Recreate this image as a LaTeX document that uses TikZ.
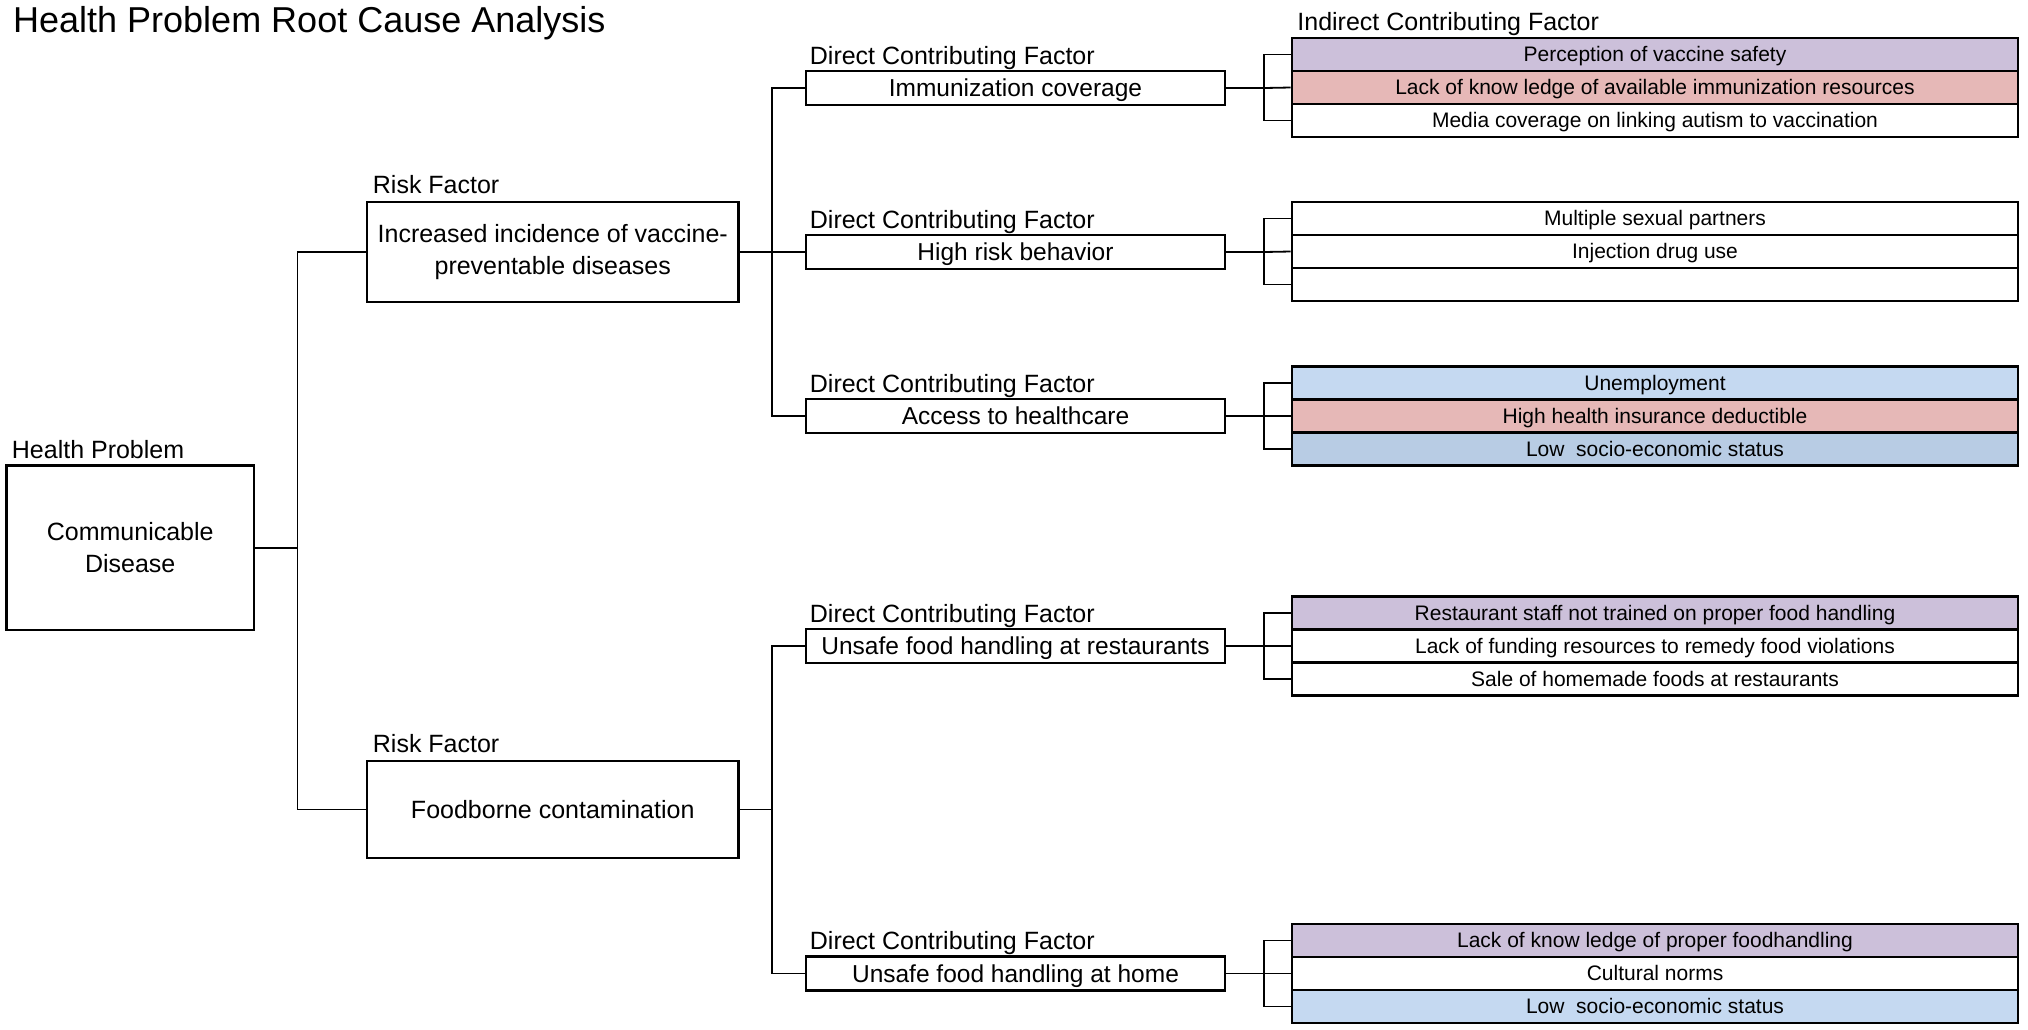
\documentclass[tikz,border=0pt]{standalone}
\usepackage{fontspec}
\setmainfont{Liberation Sans}
\usetikzlibrary{calc}
\definecolor{lav}{HTML}{CCC0DA}
\definecolor{pnk}{HTML}{E6B8B7}
\definecolor{lblue}{HTML}{C5D9F1}
\definecolor{dblue}{HTML}{B8CCE4}
\tikzset{
  box/.style={draw, line width=2.6pt, inner sep=0pt, align=center, fill=white},
  bigbox/.style={box, font=\fontsize{25}{32.4}\selectfont},
  dcfbox/.style={box, minimum width=419pt, minimum height=34pt, text height=18.4pt, text depth=1.2pt, font=\fontsize{24.5}{28}\selectfont},
  icfbox/.style={box, minimum width=726pt, minimum height=33pt, text height=15.8pt, text depth=1pt, font=\fontsize{21}{25}\selectfont},
  lbl/.style={anchor=base west, inner sep=0pt, font=\fontsize{25}{30}\selectfont},
  conn/.style={draw, line width=1.8pt}
}
\begin{document}
\begin{tikzpicture}[x=1pt,y=-1pt]
\fill[white] (0,0) rectangle (2028,1029);
\useasboundingbox (0,0) rectangle (2028,1029);

\node[anchor=base west, inner sep=0pt, font=\fontsize{36}{40}\selectfont] (title) at (13,32) {Health Problem Root Cause Analysis};

% Health problem
\node[bigbox, minimum width=247.5pt, minimum height=164.5pt] (cd) at (130.25,547.75) {Communicable\\Disease};
\node[lbl] (cdl) at ($(cd.north west)+(6.5,-6)$) {Health Problem};

% Risk factors
\node[bigbox, minimum width=371.5pt, minimum height=100pt] (rf1) at (552.75,252) {Increased incidence of vaccine-\\preventable diseases};
\node[lbl] (rf1l) at ($(rf1.north west)+(7,-7)$) {Risk Factor};
\node[bigbox, minimum width=371.5pt, minimum height=97pt] (rf2) at (552.75,809.5) {Foodborne contamination};
\node[lbl] (rf2l) at ($(rf2.north west)+(7,-7)$) {Risk Factor};

% Direct contributing factors
\node[dcfbox] (d1) at (1015.5,88) {Immunization coverage};
\node[dcfbox] (d2) at (1015.5,252) {High risk behavior};
\node[dcfbox] (d3) at (1015.5,416) {Access to healthcare};
\node[dcfbox] (d4) at (1015.5,646) {Unsafe food handling at restaurants};
\node[dcfbox] (d5) at (1015.5,973.5) {Unsafe food handling at home};
\foreach \d in {d1,d2,d3,d4,d5}{
  \node[lbl] (\d l) at ($(\d.north west)+(5,-5.5)$) {Direct Contributing Factor};
}

% Indirect contributing factors
\node[icfbox, fill=lav] (i11) at (1655,54.5) {Perception of vaccine safety};
\node[icfbox, fill=pnk] (i12) at (1655,87.5) {Lack of know ledge of available immunization resources};
\node[icfbox] (i13) at (1655,120.5) {Media coverage on linking autism to vaccination};
\node[lbl] (icfl) at ($(i11.north west)+(6.5,-6.5)$) {Indirect Contributing Factor};

\node[icfbox] (i21) at (1655,218.5) {Multiple sexual partners};
\node[icfbox] (i22) at (1655,251.5) {Injection drug use};
\node[icfbox] (i23) at (1655,284.5) {};

\node[icfbox, fill=lblue] (i31) at (1655,383) {Unemployment};
\node[icfbox, fill=pnk] (i32) at (1655,416) {High health insurance deductible};
\node[icfbox, fill=dblue] (i33) at (1655,449) {Low\ \ socio-economic status};

\node[icfbox, fill=lav] (i41) at (1655,613) {Restaurant staff not trained on proper food handling};
\node[icfbox] (i42) at (1655,646) {Lack of funding resources to remedy food violations};
\node[icfbox] (i43) at (1655,679) {Sale of homemade foods at restaurants};

\node[icfbox, fill=lav] (i51) at (1655,940.5) {Lack of know ledge of proper foodhandling};
\node[icfbox] (i52) at (1655,973.5) {Cultural norms};
\node[icfbox, fill=lblue] (i53) at (1655,1006.5) {Low\ \ socio-economic status};

% connectors level 1
\coordinate (j1) at (297.5,547.75);
\draw[conn] (cd.east) -- (j1);
\draw[conn] (j1) |- (rf1.west);
\draw[conn] (j1) |- (rf2.west);

% level 2
\coordinate (j2) at (772,252);
\draw[conn] (rf1.east) -- (j2);
\draw[conn] (j2) |- (d1.west);
\draw[conn] (j2) -- (d2.west);
\draw[conn] (j2) |- (d3.west);
\coordinate (j3) at (772,809.5);
\draw[conn] (rf2.east) -- (j3);
\draw[conn] (j3) |- (d4.west);
\draw[conn] (j3) |- (d5.west);

% level 3
\foreach \g in {1,...,5}{
  \coordinate (k\g) at ($(d\g.east)+(38,0)$);
  \draw[conn] (d\g.east) -- (k\g);
  \draw[conn] (k\g) |- (i\g1.west);
  \draw[conn] (k\g) -- (i\g2.west);
  \draw[conn] (k\g) |- (i\g3.west);
}
\end{tikzpicture}
\end{document}
